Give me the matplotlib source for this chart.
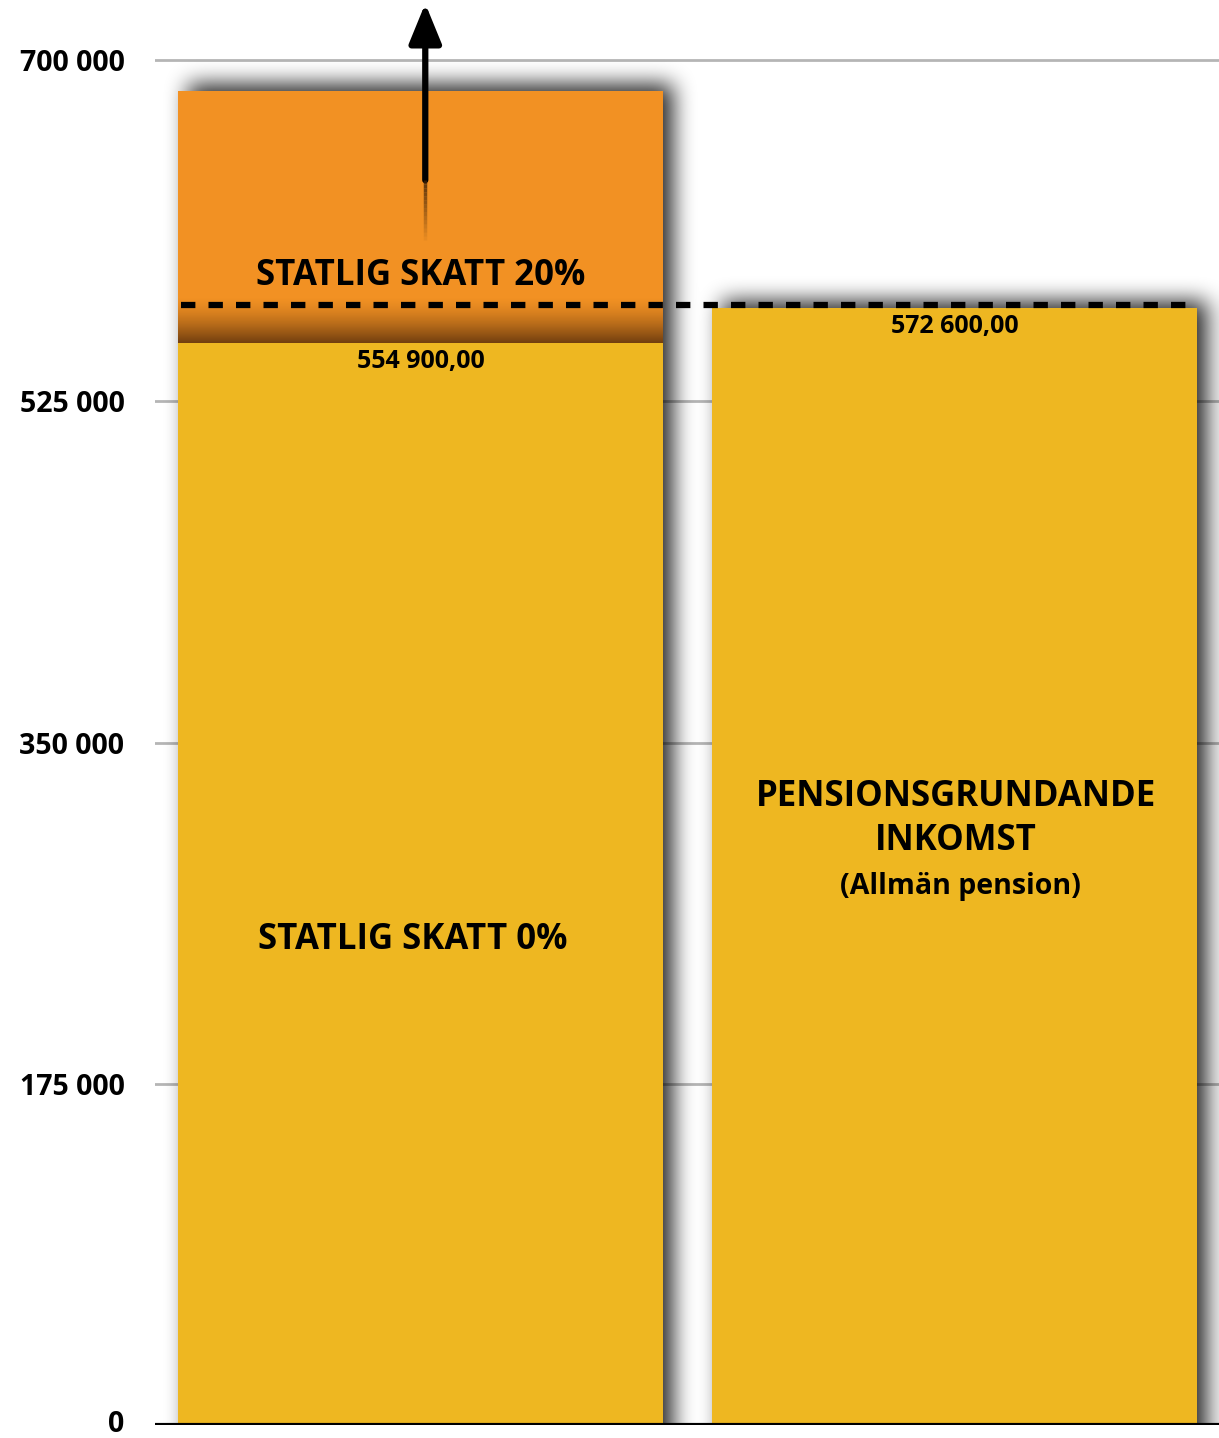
import numpy as np
import matplotlib
matplotlib.use('Agg')
import matplotlib.pyplot as plt
from matplotlib.transforms import offset_copy

plt.rcParams['font.family'] = ['Open Sans', 'DejaVu Sans']

# data
bars = ['Statlig skatt', 'Pensionsgrundande inkomst']
base_values = [554900, 572600]
upper_segment = [684000 - 554900, 0]
threshold = 574500
value_labels = ['554 900,00', '572 600,00']
yticks = [0, 175000, 350000, 525000, 700000]
ytick_labels = ['0', '175 000', '350 000', '525 000', '700 000']

yellow = '#EEB721'
orange = '#F29123'

W, H = 1219, 1438
fig = plt.figure(figsize=(W / 100, H / 100), dpi=100)
ax_l, ax_b = 155 / W, 13 / H
ax = fig.add_axes([ax_l, ax_b, 1 - ax_l, 1425 / H])
ax.set_xlim(-0.497, 1.495)
ax.set_ylim(0, 730800)

x = np.arange(len(bars))
width = 0.908

# gridlines
for t in yticks[1:]:
    ax.axhline(t, color='#b5b5b5', lw=2, zorder=0)

# drop shadow (blurred image built from bar rectangles)
def box_blur(a, r, axis):
    pad = [(0, 0), (0, 0)]
    pad[axis] = (r + 1, r)
    c = np.cumsum(np.pad(a, pad, mode='edge'), axis=axis)
    n = a.shape[axis]
    if axis == 0:
        return (c[2 * r + 1:2 * r + 1 + n] - c[:n]) / (2 * r + 1)
    return (c[:, 2 * r + 1:2 * r + 1 + n] - c[:, :n]) / (2 * r + 1)

nx, ny = 1064, 1425
x0, x1 = ax.get_xlim()
y0, y1 = ax.get_ylim()
gx = np.linspace(x0, x1, nx)
gy = np.linspace(y1, y0, ny)
mask = np.zeros((ny, nx))
tops = [b + u for b, u in zip(base_values, upper_segment)]
dx = 10 * (x1 - x0) / nx
dy = 8 * (y1 - y0) / ny
for xi, top in zip(x, tops):
    inx = (gx >= xi - width / 2 + dx) & (gx <= xi + width / 2 + dx)
    iny = (gy <= top + dy) & (gy >= -30000)
    mask[np.ix_(iny, inx)] = 1.0
for _ in range(3):
    mask = box_blur(mask, 10, 0)
    mask = box_blur(mask, 10, 1)
shadow = np.zeros((ny, nx, 4))
shadow[..., 3] = mask * 0.85
ax.imshow(shadow, extent=(x0, x1, y0, y1), aspect='auto', zorder=1,
          interpolation='bilinear')

# bars
ax.bar(x, base_values, width=width, color=yellow, zorder=2)
ax.bar(x, upper_segment, width=width, bottom=base_values, color=orange, zorder=2)

# inner shadow of the yellow bar on the orange segment
grad = np.zeros((50, 2, 4))
grad[..., 0] = 0.25
grad[..., 1] = 0.12
grad[..., 2] = 0.03
grad[..., 3] = np.linspace(0, 0.8, 50)[:, None] ** 1.5
ax.imshow(grad, extent=(x[0] - width / 2, x[0] + width / 2,
                        base_values[0], base_values[0] + 24000),
          aspect='auto', origin='upper', zorder=3, interpolation='bilinear')
ax.set_xlim(x0, x1)
ax.set_ylim(y0, y1)

# threshold dashed line
ax.hlines(threshold, x[0] - width / 2 + 0.005, x[1] + width / 2 - 0.005,
          colors='black', lw=4.5, linestyles=(0, (2.3, 2.1)), zorder=4)

# arrow
arr_x = 0.009
ax.annotate('', xy=(arr_x, 729000), xytext=(arr_x, 638400),
            arrowprops=dict(arrowstyle='-|>,head_length=1.1,head_width=0.45',
                            color='black', lw=4.5, mutation_scale=22,
                            shrinkA=0, shrinkB=0), zorder=5)
seg = np.linspace(607700, 638400, 16)
for i in range(15):
    ax.plot([arr_x, arr_x], [seg[i], seg[i + 1]], color='#3a2008',
            lw=2.5, alpha=(i + 1) / 15 * 0.8, solid_capstyle='butt', zorder=5)

# baseline
ax.axhline(0, color='black', lw=3, zorder=5)

# labels
for xi, v, lab in zip(x, base_values, value_labels):
    ax.annotate(lab, (xi, v), xytext=(0, -13), textcoords='offset points',
                ha='center', va='center', fontsize=18, fontweight='bold', zorder=6)

ax.annotate('STATLIG SKATT 20%', (x[0], base_values[0]), xytext=(0, 48),
            textcoords='offset points', ha='center', va='center',
            fontsize=25, fontweight='bold', zorder=6)
ax.text(x[0] - 0.015, 248700, 'STATLIG SKATT 0%', ha='center', va='center',
        fontsize=25, fontweight='bold', zorder=6)
ax.text(x[1] + 0.003, 311000, 'PENSIONSGRUNDANDE\nINKOMST', ha='center', va='center',
        fontsize=25, fontweight='bold', linespacing=1.3, zorder=6)
ax.text(x[1] + 0.01, 276000, '(Allmän pension)', ha='center', va='center',
        fontsize=20.5, fontweight='bold', zorder=6)

ax.set_yticks(yticks)
ax.set_yticklabels(ytick_labels, fontsize=20.5, fontweight='bold')
ax.tick_params(axis='y', length=0, pad=22)
# keep the bottom label inside the figure
lbl0 = ax.get_yticklabels()[0]
lbl0.set_transform(offset_copy(lbl0.get_transform(), fig=fig, x=0, y=4, units='dots'))
ax.set_xticks([])
for s in ax.spines.values():
    s.set_visible(False)

fig.savefig('out.png', dpi=100)
